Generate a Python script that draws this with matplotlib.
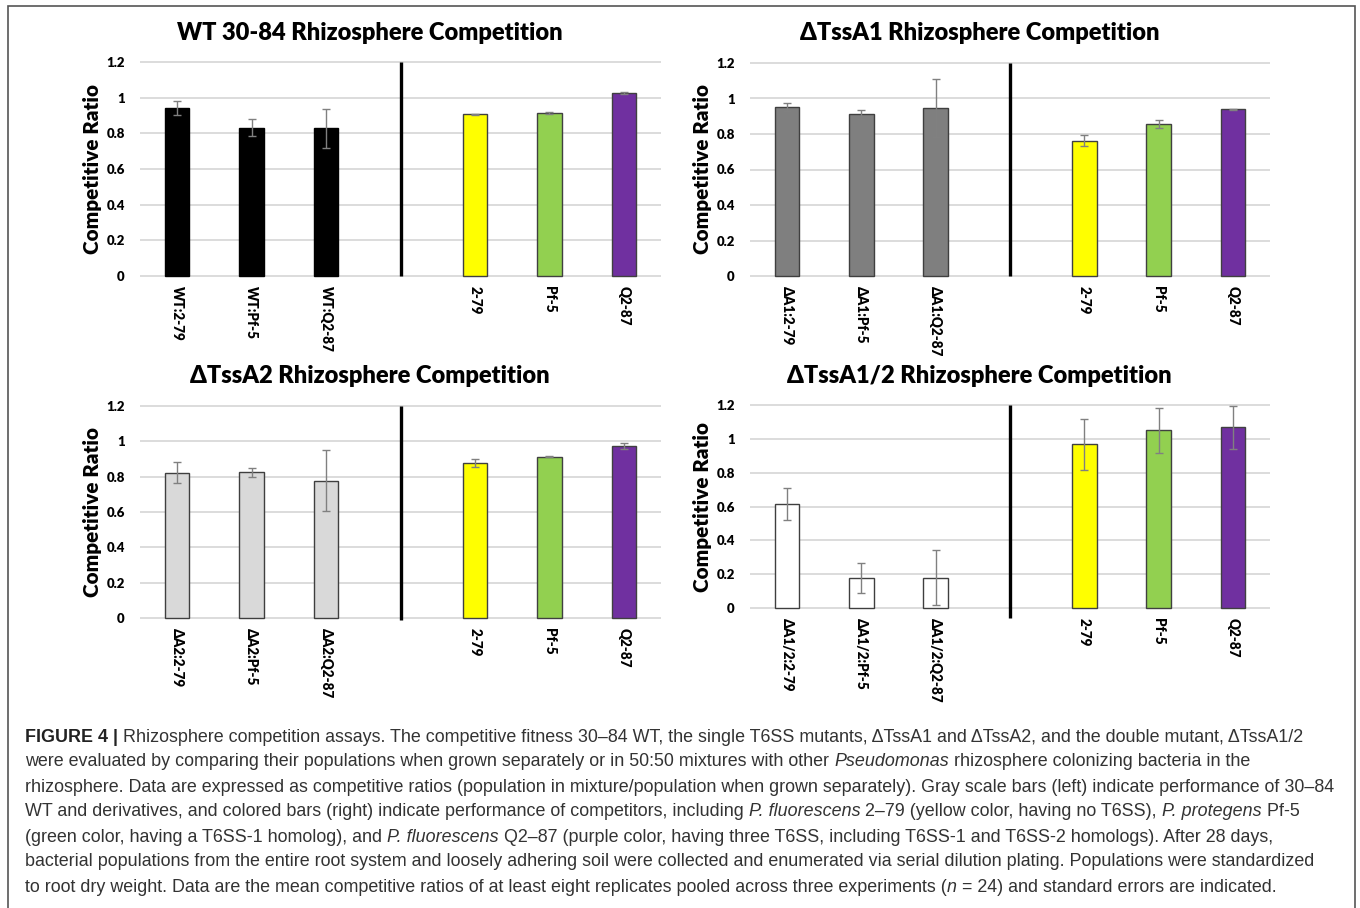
import matplotlib
matplotlib.use("Agg")
import matplotlib.pyplot as plt
from matplotlib import font_manager
from matplotlib.patches import Rectangle

# ---------------- data ----------------
titles = ["WT 30-84 Rhizosphere Competition", "ΔTssA1 Rhizosphere Competition",
          "ΔTssA2 Rhizosphere Competition", "ΔTssA1/2 Rhizosphere Competition"]

cats_wt = ["WT:2-79", "WT:Pf-5", "WT:Q2-87"]
cats_a1 = ["ΔA1:2-79", "ΔA1:Pf-5", "ΔA1:Q2-87"]
cats_a2 = ["ΔA2:2-79", "ΔA2:Pf-5", "ΔA2:Q2-87"]
cats_a12 = ["ΔA1/2:2-79", "ΔA1/2:Pf-5", "ΔA1/2:Q2-87"]
competitors = ["2-79", "Pf-5", "Q2-87"]

vals_wt = [0.94, 0.832, 0.828]
err_wt = [0.039, 0.046, 0.109]
comp_wt = [0.907, 0.914, 1.024]
comp_err_wt = [0.003, 0.007, 0.006]

vals_a1 = [0.952, 0.912, 0.946]
err_a1 = [0.025, 0.025, 0.164]
comp_a1 = [0.762, 0.856, 0.939]
comp_err_a1 = [0.030, 0.022, 0.003]

vals_a2 = [0.823, 0.825, 0.778]
err_a2 = [0.061, 0.026, 0.174]
comp_a2 = [0.876, 0.912, 0.974]
comp_err_a2 = [0.023, 0.003, 0.017]

vals_a12 = [0.617, 0.178, 0.178]
err_a12 = [0.094, 0.089, 0.162]
comp_a12 = [0.967, 1.050, 1.067]
comp_err_a12 = [0.151, 0.133, 0.127]

yticks = [0, 0.2, 0.4, 0.6, 0.8, 1.0, 1.2]
ytick_labels = ["0", "0.2", "0.4", "0.6", "0.8", "1", "1.2"]

# ---------------- styles ----------------
W, H = 1360, 908
fig = plt.figure(figsize=(W / 100, H / 100), dpi=100)
fig.patch.set_facecolor("white")
renderer = fig.canvas.get_renderer()

names = {f.name for f in font_manager.fontManager.ttflist}
head_font = "Lato" if "Lato" in names else "DejaVu Sans"
cap_font = "Liberation Sans" if "Liberation Sans" in names else "DejaVu Sans"
HEAVY = "heavy"

comp_colors = ["#ffff00", "#92d050", "#7030a0"]
mut_colors = ["#000000", "#7f7f7f", "#d9d9d9", "#ffffff"]


def measure(s, size, **kw):
    t = fig.text(0, 0, s, fontsize=size, **kw)
    bb = t.get_window_extent(renderer)
    t.remove()
    return bb.width


# fit heading sizes to the reference text widths (pixels)
title_size = 15.0 * 387 / measure(titles[0], 15.0, family=head_font, fontweight=HEAVY)
ylab_size = 14.0 * 170 / measure("Competitive Ratio", 14.0, family=head_font, fontweight=HEAVY)
xt_size = 9.0 * 55 / measure("WT:2-79", 9.0, family=head_font, fontweight=HEAVY)

# panel geometry in pixels: (left, right, y of 0, y of 1.2, title x, title y, divider bottom value)
panels = [
    (140, 661, 276, 62, 370, 33, 0.0),
    (750, 1270, 276, 63, 980, 33, 0.0),
    (140, 661, 618, 406, 370, 376, -0.01),
    (750, 1270, 608, 405, 979, 376, -0.06),
]
mut_cats = [cats_wt, cats_a1, cats_a2, cats_a12]
mut_vals = [vals_wt, vals_a1, vals_a2, vals_a12]
mut_errs = [err_wt, err_a1, err_a2, err_a12]
comp_vals = [comp_wt, comp_a1, comp_a2, comp_a12]
comp_errs = [comp_err_wt, comp_err_a1, comp_err_a2, comp_err_a12]

lo, hi = -0.04, 1.24
for i, (l, r, y0, y12, tx, ty, dbot) in enumerate(panels):
    k = (y0 - y12) / 1.2
    top_px = y0 - hi * k
    bot_px = y0 - lo * k
    ax = fig.add_axes([l / W, 1 - bot_px / H, (r - l) / W, (bot_px - top_px) / H])
    ax.set_xlim(-0.5, 6.5)
    ax.set_ylim(lo, hi)
    for s in ax.spines.values():
        s.set_visible(False)
    ax.patch.set_alpha(0)
    for yv in yticks:
        ax.axhline(yv, color="#d9d9d9", lw=1.3, zorder=0)
    labels = mut_cats[i] + [""] + competitors
    xs_m = [0, 1, 2]
    xs_c = [4, 5, 6]
    edge_m = "#000000" if i == 0 else "#3f3f3f"
    ax.bar(xs_m, mut_vals[i], width=0.33, color=mut_colors[i], edgecolor=edge_m,
           linewidth=1.0, zorder=2)
    ax.bar(xs_c, comp_vals[i], width=0.33, color=comp_colors, edgecolor="#404040",
           linewidth=1.0, zorder=2)
    ax.errorbar(xs_m, mut_vals[i], yerr=mut_errs[i], fmt="none", ecolor="#808080",
                elinewidth=1.0, capsize=3, capthick=1.0, zorder=3)
    ax.errorbar(xs_c, comp_vals[i], yerr=comp_errs[i], fmt="none", ecolor="#808080",
                elinewidth=1.0, capsize=3, capthick=1.0, zorder=3)
    ax.plot([3, 3], [dbot, 1.2], color="black", lw=2.4, solid_capstyle="butt",
            zorder=4, clip_on=False)
    ax.set_yticks(yticks)
    ax.set_yticklabels(ytick_labels, fontsize=9.5, fontweight=HEAVY, family=head_font)
    ax.set_xticks(range(7))
    ax.set_xticklabels(labels, rotation=270, fontsize=xt_size, fontweight=HEAVY,
                       family=head_font, va="top", ha="center")
    ax.tick_params(axis="both", length=0)
    ax.tick_params(axis="y", pad=11)
    ax.tick_params(axis="x", pad=2)
    fig.text(tx / W, 1 - ty / H, titles[i], fontsize=title_size, fontweight=HEAVY,
             family=head_font, ha="center", va="center")
    fig.text((l - 48) / W, 1 - ((y0 + y12) / 2) / H, "Competitive Ratio", rotation=90,
             fontsize=ylab_size, fontweight=HEAVY, family=head_font, ha="center", va="center")

# border
fig.patches.append(Rectangle((8 / W, -0.05), (1355 - 8) / W, 1.05 - 6 / H,
                             transform=fig.transFigure, fill=False,
                             edgecolor="#555555", lw=1.2))

# ---------------- caption ----------------
N, B, I = "normal", "bold", "italic"
caption_lines = [
    [("FIGURE 4 |", B), (" Rhizosphere competition assays. The competitive fitness 30–84 WT, the single T6SS mutants, ΔTssA1 and ΔTssA2, and the double mutant, ΔTssA1/2", N)],
    [("were evaluated by comparing their populations when grown separately or in 50:50 mixtures with other ", N), ("Pseudomonas", I), (" rhizosphere colonizing bacteria in the", N)],
    [("rhizosphere. Data are expressed as competitive ratios (population in mixture/population when grown separately). Gray scale bars (left) indicate performance of 30–84", N)],
    [("WT and derivatives, and colored bars (right) indicate performance of competitors, including ", N), ("P. fluorescens", I), (" 2–79 (yellow color, having no T6SS), ", N), ("P. protegens", I), (" Pf-5", N)],
    [("(green color, having a T6SS-1 homolog), and ", N), ("P. fluorescens", I), (" Q2–87 (purple color, having three T6SS, including T6SS-1 and T6SS-2 homologs). After 28 days,", N)],
    [("bacterial populations from the entire root system and loosely adhering soil were collected and enumerated via serial dilution plating. Populations were standardized", N)],
    [("to root dry weight. Data are the mean competitive ratios of at least eight replicates pooled across three experiments (", N), ("n", I), (" = 24) and standard errors are indicated.", N)],
]
line_y = [737, 762, 787, 812, 837, 862, 887]
cap_x0 = 25
cap_target_w = 1313  # width of the longest line


def seg_kwargs(style):
    if style == B:
        return dict(fontweight="bold", color="#222222")
    if style == I:
        return dict(fontstyle="italic", color="#333333")
    return dict(color="#333333")


def seg_w(s, size, style):
    # width including leading / trailing spaces
    kw = dict(family=cap_font, **seg_kwargs(style))
    return measure("|" + s + "|", size, **kw) - measure("||", size, **kw)


def line_width(segs, size):
    return sum(seg_w(s, size, st) for s, st in segs)


base = 12.0
longest = max(line_width(segs, base) for segs in caption_lines)
cap_size = base * cap_target_w / longest

for segs, yy in zip(caption_lines, line_y):
    x = cap_x0
    for s, st in segs:
        fig.text(x / W, 1 - yy / H, s, fontsize=cap_size, family=cap_font,
                 ha="left", va="center", **seg_kwargs(st))
        x += seg_w(s, cap_size, st)

fig.savefig("out.png", dpi=100, facecolor="white")
